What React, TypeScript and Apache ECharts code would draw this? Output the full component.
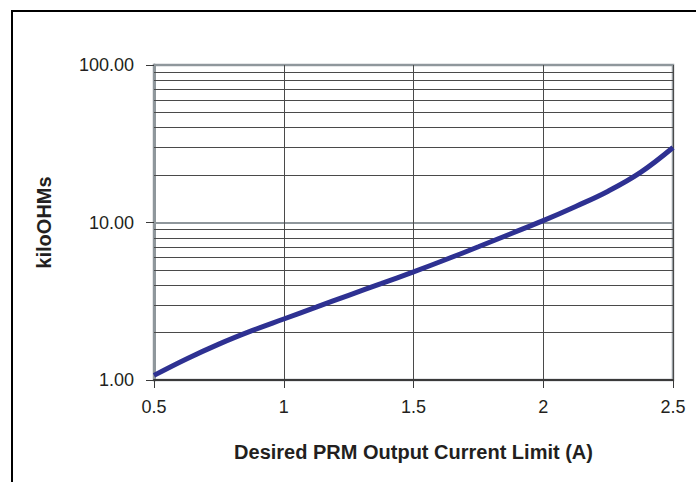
import React, { useEffect, useRef } from "react";
import * as echarts from "echarts";

const CURRENT_A = [0.5, 0.625, 0.75, 0.875, 1.0, 1.125, 1.25, 1.375, 1.5, 1.625, 1.75, 1.875, 2.0, 2.125, 2.25, 2.375, 2.5];
const KILO_OHMS = [1.07, 1.36, 1.69, 2.05, 2.44, 2.9, 3.45, 4.09, 4.86, 5.82, 7.01, 8.49, 10.28, 12.65, 15.81, 20.8, 29.92];
const MINOR_GRID = [2, 3, 4, 5, 6, 7, 8, 9, 20, 30, 40, 50, 60, 70, 80, 90];
const X_NAME = "Desired PRM Output Current Limit (A)";
const Y_NAME = "kiloOHMs";

const FONT = "'Liberation Sans', Arial, Helvetica, sans-serif";

export default function App() {
  const ref = useRef<HTMLDivElement>(null);
  useEffect(() => {
    if (!ref.current) return;
    const chart = echarts.init(ref.current, null, { renderer: "svg" });
    chart.setOption({
      animation: false,
      backgroundColor: "#ffffff",
      graphic: [
        {
          type: "rect",
          shape: { x: 12, y: 11, width: 720, height: 520 },
          style: { fill: "none", stroke: "#000000", lineWidth: 2 },
          silent: true,
        },
      ],
      grid: {
        left: 154,
        top: 65,
        right: 23,
        bottom: 102,
        show: true,
        borderColor: "#969da2",
        borderWidth: 2.5,
        backgroundColor: "transparent",
      },
      xAxis: {
        type: "value",
        min: 0.5,
        max: 2.5,
        interval: 0.5,
        name: X_NAME,
        nameLocation: "middle",
        nameGap: 62,
        nameTextStyle: { fontFamily: FONT, fontSize: 20, fontWeight: "bold", color: "#231f20" },
        axisLine: { show: true, onZero: false, lineStyle: { color: "#3a3a3a", width: 2 } },
        axisTick: { show: true, length: 8, lineStyle: { color: "#3a3a3a", width: 1 } },
        axisLabel: {
          fontFamily: FONT,
          fontSize: 18,
          color: "#231f20",
          margin: 18,
          formatter: (v: number) => String(v),
        },
        splitLine: { show: true, lineStyle: { color: "#4a4a4a", width: 1 } },
      },
      yAxis: {
        type: "log",
        logBase: 10,
        min: 1,
        max: 100,
        name: Y_NAME,
        nameLocation: "middle",
        nameGap: 100,
        nameTextStyle: { fontFamily: FONT, fontSize: 20, fontWeight: "bold", color: "#231f20" },
        axisLine: { show: true, lineStyle: { color: "#8f979c", width: 3 } },
        axisTick: { show: true, length: 8, lineStyle: { color: "#3a3a3a", width: 1 } },
        axisLabel: {
          fontFamily: FONT,
          fontSize: 18,
          color: "#231f20",
          margin: 20,
          formatter: (v: number) => v.toFixed(2),
        },
        splitLine: { show: true, lineStyle: { color: "#8f979c", width: 2 } },
      },
      series: [
        {
          type: "line",
          data: CURRENT_A.map((x, i) => [x, KILO_OHMS[i]]),
          smooth: 0.4,
          showSymbol: false,
          lineStyle: { color: "#2e3192", width: 5 },
          itemStyle: { color: "#2e3192" },
          z: 5,
          markLine: {
            silent: true,
            symbol: "none",
            label: { show: false },
            lineStyle: { color: "#4a4a4a", width: 1, type: "solid" },
            data: MINOR_GRID.map((v) => ({ yAxis: v })),
            z: 1,
          },
        },
      ],
    });
    return () => chart.dispose();
  }, []);
  return (
    <div
      ref={ref}
      style={{ position: "fixed", left: 0, top: 0, width: 696, height: 482, background: "#fff" }}
    />
  );
}
